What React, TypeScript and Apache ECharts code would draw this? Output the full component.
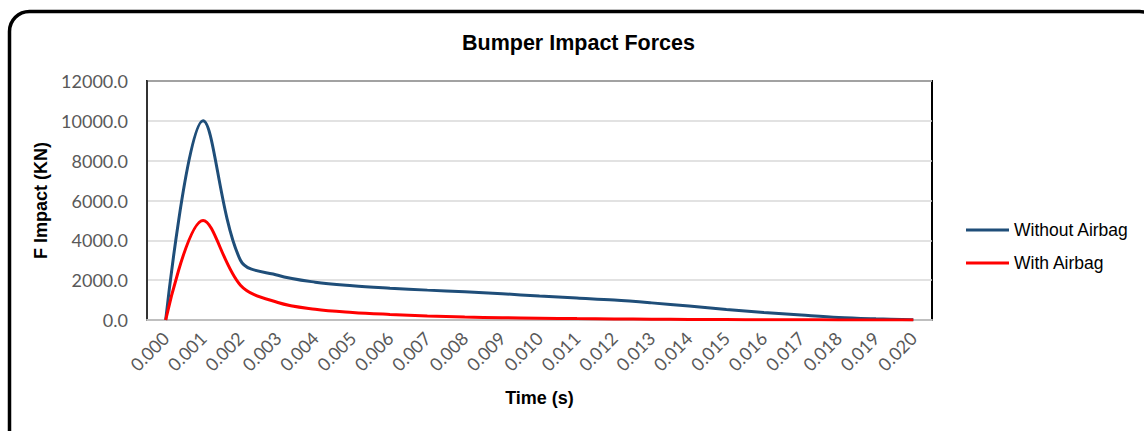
import React, { useEffect, useRef } from "react";
import * as echarts from "echarts";

const times = [
  "0.000", "0.001", "0.002", "0.003", "0.004", "0.005", "0.006", "0.007",
  "0.008", "0.009", "0.010", "0.011", "0.012", "0.013", "0.014", "0.015",
  "0.016", "0.017", "0.018", "0.019", "0.020",
];
const withoutAirbag = [
  0, 10000, 3000, 2250, 1900, 1720, 1600, 1500, 1420, 1320, 1200, 1100,
  1000, 860, 700, 530, 380, 250, 130, 60, 10,
];
const withAirbag = [
  0, 5000, 1750, 880, 540, 380, 280, 200, 150, 115, 90, 70, 55, 40, 30, 22,
  15, 10, 6, 3, 1,
];

export default function App() {
  const ref = useRef<HTMLDivElement>(null);
  useEffect(() => {
    if (!ref.current) return;
    const chart = echarts.init(ref.current, undefined, { renderer: "svg" });
    const labelFont = "Lato, 'Open Sans', sans-serif";
    const boldFont = "'Liberation Sans', Arial, sans-serif";
    chart.setOption({
      animation: false,
      backgroundColor: "#ffffff",
      title: {
        text: "Bumper Impact Forces",
        left: 462,
        top: 32,
        padding: 0,
        textStyle: { fontFamily: boldFont, fontSize: 21.5, fontWeight: "bold", color: "#000" },
      },
      graphic: [
        {
          type: "rect",
          shape: { x: 9.5, y: 11.5, width: 1150, height: 440, r: 20 },
          style: { fill: "none", stroke: "#000", lineWidth: 3.5 },
          silent: true,
          z: 100,
        },
      ],
      legend: {
        orient: "vertical",
        left: 966,
        top: 220,
        padding: 0,
        icon: "rect",
        itemWidth: 43,
        itemHeight: 3,
        itemGap: 13,
        textStyle: { fontFamily: boldFont, fontSize: 17.5, color: "#000", lineHeight: 20 },
        data: ["Without Airbag", "With Airbag"],
      },
      grid: {
        left: 147,
        right: 212,
        top: 81,
        bottom: 111,
        show: true,
        borderColor: "#000",
        borderWidth: 2,
      },
      xAxis: {
        type: "category",
        data: times,
        boundaryGap: true,
        name: "Time (s)",
        nameLocation: "middle",
        nameGap: 69,
        nameTextStyle: { fontFamily: boldFont, fontSize: 18, fontWeight: "bold", color: "#000" },
        axisLine: { lineStyle: { color: "#bfbfbf", width: 2 } },
        axisTick: { show: false },
        axisLabel: {
          rotate: 45,
          interval: 0,
          margin: 15,
          fontFamily: labelFont,
          fontSize: 18,
          color: "#595959",
        },
      },
      yAxis: {
        type: "value",
        min: 0,
        max: 12000,
        interval: 2000,
        name: "F Impact (KN)",
        nameLocation: "middle",
        nameGap: 91,
        nameTextStyle: { fontFamily: boldFont, fontSize: 18, fontWeight: "bold", color: "#000" },
        axisLine: { show: true, lineStyle: { color: "#333", width: 2 } },
        axisTick: { show: false },
        axisLabel: {
          margin: 19,
          fontFamily: labelFont,
          fontSize: 18,
          color: "#595959",
          formatter: (v: number) => v.toFixed(1),
        },
        splitLine: { lineStyle: { color: "#d9d9d9", width: 1.5 } },
      },
      series: [
        {
          name: "Without Airbag",
          type: "line",
          data: withoutAirbag,
          smooth: 0.35,
          showSymbol: false,
          lineStyle: { color: "#1f4e79", width: 3 },
          itemStyle: { color: "#1f4e79" },
        },
        {
          name: "With Airbag",
          type: "line",
          data: withAirbag,
          smooth: 0.35,
          showSymbol: false,
          lineStyle: { color: "#ff0000", width: 3 },
          itemStyle: { color: "#ff0000" },
        },
      ],
    });
    return () => chart.dispose();
  }, []);
  return (
    <div
      ref={ref}
      style={{ position: "absolute", left: 0, top: 0, width: 1144, height: 431 }}
    />
  );
}
